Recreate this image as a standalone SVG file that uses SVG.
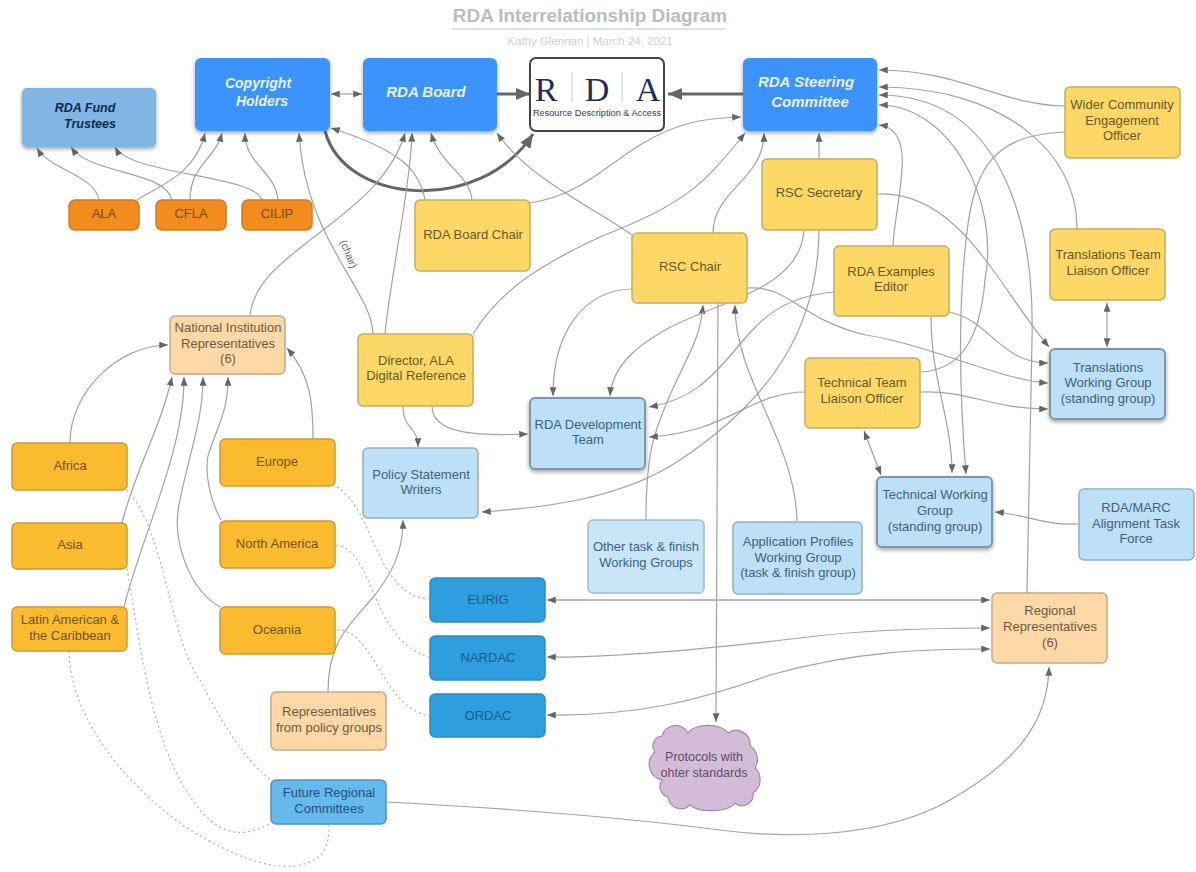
<svg xmlns="http://www.w3.org/2000/svg" width="1196" height="872" viewBox="0 0 1196 872">
<style>
text{font-family:"Liberation Sans",Arial,sans-serif;font-size:13px;text-anchor:middle}
.n{stroke-width:1.5}
.y{fill:#fdd866;stroke:#c4ad62}.yt{fill:#66582a}
.o{fill:#fbbb2e;stroke:#c79b3c}.ot{fill:#6e5418}
.d{fill:#f28c1c;stroke:#c87c2e}.dt{fill:#7a4a10}
.p{fill:#fed8a6;stroke:#c4aa88}.pt{fill:#6e5a42}
.l{fill:#bde0f6;stroke:#8fb0c8}.lt{fill:#3f5f7c}
.s{fill:#bde0f6;stroke:#7d97ad;stroke-width:2}
.b{fill:#3c93fc}.bt{fill:#e8f2ff;font-weight:bold;font-style:italic;font-size:15px}
.m{fill:#2f9ede;stroke:#2f8cc4}.mt{fill:#1d5a8c}
.f{fill:#66b9ec;stroke:#4f93bd}.ft{fill:#24527c}
.c path{fill:none;stroke:#a2a2a2;stroke-width:1.2;marker-end:url(#a)}
.c path.two{marker-start:url(#a)}
.c path.dot{stroke:#b0b0b0;stroke-dasharray:2 3;marker-end:none}
.c path.thick{stroke:#666;stroke-width:3;marker-end:url(#t)}
</style>
<defs>
<marker id="a" viewBox="0 0 10 8" refX="10" refY="4" markerWidth="9" markerHeight="7" markerUnits="userSpaceOnUse" orient="auto-start-reverse"><path d="M0,0L10,4L0,8Z" fill="#666"/></marker>
<marker id="t" viewBox="0 0 14 12" refX="14" refY="6" markerWidth="14" markerHeight="12" markerUnits="userSpaceOnUse" orient="auto"><path d="M0,0L14,6L0,12Z" fill="#666"/></marker>
<filter id="sh" x="-10%" y="-10%" width="120%" height="125%"><feDropShadow dx="0" dy="2" stdDeviation="2" flood-color="#555" flood-opacity=".55"/></filter>
</defs>
<g id="title">
<text x="590" y="22" style="font-size:18.9px;font-weight:bold;fill:#b9bcc0">RDA Interrelationship Diagram</text>
<path d="M452,29H726" stroke="#c4c6c9" stroke-width="1.2"/>
<text x="590" y="45" style="font-size:11.5px;fill:#cfd1d3">Kathy Glennan | March 24, 2021</text>
</g>
<g id="connectors" class="c">
<path d="M99,200C95,175 50,170 37,148"/>
<path d="M172,200C165,170 90,175 71,147"/>
<path d="M262,200C255,175 130,175 115,147"/>
<path d="M137,200C160,185 195,175 205,133"/>
<path d="M190,200C190,165 215,160 222,133"/>
<path d="M278,200C275,170 245,165 245,133"/>
<path class="two" d="M331,94H362"/>
<path class="thick" d="M497,94H530"/>
<path class="thick" d="M743,94H668"/>
<path class="thick" d="M325,131C345,205 480,215 533,134"/>
<path d="M373,334C372,290 305,240 299,133"/>
<path d="M250,316C255,250 380,220 405,133"/>
<path d="M385,334C390,280 410,190 412,133"/>
<path d="M425,200C420,170 400,150 331,128"/>
<path d="M472,200C470,175 440,165 431,133"/>
<path d="M530,203C580,195 600,170 640,145C680,120 710,118 741,117"/>
<path d="M473,334C500,290 540,265 600,237C680,205 700,190 745,133"/>
<path d="M713,233C713,190 764,180 764,133"/>
<path d="M819,159V133"/>
<path d="M893,246C895,200 920,130 879,125"/>
<path d="M1065,106C1000,105 960,70 879,70"/>
<path d="M1077,229C1078,150 1000,87 879,87"/>
<path d="M1027,593L1032,340C1035,220 1000,95 879,95"/>
<path d="M921,372C960,370 980,340 985,280C1000,200 950,105 879,105"/>
<path d="M1065,132C990,135 972,170 965,250C958,320 960,400 966,474"/>
<path d="M877,194C960,190 1000,290 1049,347"/>
<path class="two" d="M1107,303V347"/>
<path d="M949,312C990,320 1000,363 1048,363"/>
<path d="M747,288C790,285 800,320 866,335C930,345 1000,380 1048,383"/>
<path d="M920,392C970,390 990,409 1048,409"/>
<path d="M931,317C931,380 952,420 952,473"/>
<path class="two" d="M864,431L881,475"/>
<path d="M1079,524C1040,525 1030,515 995,512"/>
<path d="M646,520C646,450 655,430 670,395C690,350 700,340 703,305"/>
<path d="M797,521C795,440 735,380 735,305"/>
<path d="M718,303L716,722"/>
<path d="M804,230C800,290 720,300 665,330C630,350 612,370 610,396"/>
<path d="M819,230C818,330 770,400 680,460C620,500 540,508 482,512"/>
<path d="M834,292C780,297 760,320 735,350C710,380 690,400 649,407"/>
<path d="M805,392C750,392 730,432 649,437"/>
<path d="M632,289C585,290 553,330 553,396"/>
<path d="M632,235C590,205 530,180 497,133"/>
<path d="M403,406C403,430 418,425 418,447"/>
<path d="M432,406C432,435 480,436 528,434"/>
<path d="M328,692C328,640 350,625 375,595C390,575 403,555 403,520"/>
<path d="M70,443C70,390 120,345 168,345"/>
<path d="M313,439C313,400 310,375 287,348"/>
<path d="M122,523C135,470 160,430 172,377"/>
<path d="M124,607C140,540 185,450 184,377"/>
<path d="M220,607C190,590 170,540 180,500C190,450 203,420 203,377"/>
<path d="M221,520C205,490 205,460 210,450C220,420 228,410 228,377"/>
<path class="dot" d="M337,487C375,510 375,595 429,599"/>
<path class="dot" d="M336,545C375,550 370,640 429,657"/>
<path class="dot" d="M337,630C375,630 380,705 429,716"/>
<path class="dot" d="M127,490C165,530 170,640 200,680C225,730 250,765 271,780"/>
<path class="dot" d="M127,569C140,640 150,750 200,810C225,840 250,835 271,823"/>
<path class="dot" d="M69,651C70,720 130,790 190,830C240,860 270,868 295,866C320,862 330,850 329,824"/>
<path d="M387,802C500,808 620,817 720,830C780,838 880,840 950,800C1020,760 1048,720 1049,667"/>
<path class="two" style="stroke:#bbb;stroke-width:2" d="M547,600H990"/>
<path class="two" d="M547,657C620,658 740,645 800,638C860,630 930,628 990,628"/>
<path class="two" d="M547,715C640,716 700,700 770,675C860,650 930,649 990,649"/>
</g>
<text x="349" y="258" transform="rotate(68 349 254)" style="font-size:10.5px;fill:#666">(chair)</text>
<g id="fund"><rect x="22" y="88" width="134" height="59" rx="5" fill="#82b6e2" filter="url(#sh)"/><text x="85" y="112" style="font-size:12.5px;font-weight:bold;font-style:italic;fill:#0e2a4a">RDA Fund</text><text x="90" y="128" style="font-size:12.5px;font-weight:bold;font-style:italic;fill:#0e2a4a">Trustees</text></g>
<g id="copyright"><rect class="b" x="195" y="58" width="135" height="73" rx="6" filter="url(#sh)"/><text class="bt" x="258" y="88" style="font-size:14px">Copyright</text><text class="bt" x="262" y="106" style="font-size:14px">Holders</text></g>
<g id="board"><rect class="b" x="363" y="58" width="134" height="73" rx="6" filter="url(#sh)"/><text class="bt" x="426" y="97">RDA Board</text></g>
<g id="logo"><rect x="530" y="58" width="134" height="73" rx="6" fill="#fff" stroke="#444" stroke-width="2"/>
<text x="546" y="101" style="font-family:'Liberation Serif',serif;font-size:34px;fill:#1c2c5c">R</text>
<text x="597" y="101" style="font-family:'Liberation Serif',serif;font-size:34px;fill:#1c2c5c">D</text>
<text x="648" y="101" style="font-family:'Liberation Serif',serif;font-size:34px;fill:#1c2c5c">A</text>
<path d="M572,72V102M622,72V102" stroke="#ccc"/>
<text x="597" y="116" style="font-size:9.2px;fill:#333a55">Resource Description &amp; Access</text></g>
<g id="rsc"><rect class="b" x="743" y="58" width="134" height="73" rx="6" filter="url(#sh)"/><text class="bt" x="806" y="87">RDA Steering</text><text class="bt" x="810" y="107">Committee</text></g>
<g id="ala"><rect class="n d" x="69" y="200" width="70" height="30" rx="6"/><text class="dt" x="104" y="218">ALA</text></g>
<g id="cfla"><rect class="n d" x="156" y="200" width="70" height="30" rx="6"/><text class="dt" x="191" y="218">CFLA</text></g>
<g id="cilip"><rect class="n d" x="242" y="200" width="70" height="30" rx="6"/><text class="dt" x="277" y="218">CILIP</text></g>
<g id="boardchair"><rect class="n y" x="415" y="200" width="115" height="71" rx="5"/><text class="yt" x="473" y="239">RDA Board Chair</text></g>
<g id="secretary"><rect class="n y" x="762" y="159" width="115" height="71" rx="5"/><text class="yt" x="819" y="197">RSC Secretary</text></g>
<g id="chair"><rect class="n y" x="632" y="233" width="115" height="70" rx="5"/><text class="yt" x="690" y="271">RSC Chair</text></g>
<g id="examples"><rect class="n y" x="834" y="246" width="115" height="70" rx="5"/><text class="yt" x="891" y="276">RDA Examples</text><text class="yt" x="891" y="291">Editor</text></g>
<g id="wider"><rect class="n y" x="1065" y="87" width="115" height="71" rx="5"/><text class="yt" x="1122" y="109">Wider Community</text><text class="yt" x="1122" y="125">Engagement</text><text class="yt" x="1122" y="140">Officer</text></g>
<g id="transteam"><rect class="n y" x="1050" y="229" width="115" height="71" rx="5"/><text class="yt" x="1108" y="259">Translations Team</text><text class="yt" x="1108" y="275">Liaison Officer</text></g>
<g id="techteam"><rect class="n y" x="805" y="358" width="115" height="70" rx="5"/><text class="yt" x="862" y="387">Technical Team</text><text class="yt" x="862" y="403">Liaison Officer</text></g>
<g id="director"><rect class="n y" x="358" y="334" width="115" height="72" rx="5"/><text class="yt" x="416" y="365">Director, ALA</text><text class="yt" x="416" y="380">Digital Reference</text></g>
<g id="transwg"><rect class="s" x="1050" y="349" width="115" height="70" rx="5" filter="url(#sh)"/><text class="lt" x="1108" y="372">Translations</text><text class="lt" x="1108" y="387">Working Group</text><text class="lt" x="1108" y="403">(standing group)</text></g>
<g id="techwg"><rect class="s" x="877" y="477" width="115" height="70" rx="5" filter="url(#sh)"/><text class="lt" x="935" y="499">Technical Working</text><text class="lt" x="935" y="515">Group</text><text class="lt" x="935" y="531">(standing group)</text></g>
<g id="devteam"><rect class="s" x="530" y="398" width="115" height="71" rx="5" filter="url(#sh)"/><text class="lt" x="588" y="429">RDA Development</text><text class="lt" x="588" y="444">Team</text></g>
<g id="marc"><rect class="n l" x="1079" y="489" width="115" height="71" rx="5"/><text class="lt" x="1136" y="512">RDA/MARC</text><text class="lt" x="1136" y="528">Alignment Task</text><text class="lt" x="1136" y="543">Force</text></g>
<g id="appprofiles"><rect class="n l" x="733" y="522" width="129" height="72" rx="5"/><text class="lt" x="798" y="546">Application Profiles</text><text class="lt" x="798" y="562">Working Group</text><text class="lt" x="798" y="577">(task &amp; finish group)</text></g>
<g id="other"><rect class="n" fill="#c8e6f8" stroke="#9cbcd0" x="588" y="520" width="116" height="73" rx="5"/><text class="lt" x="646" y="551">Other task &amp; finish</text><text class="lt" x="646" y="567">Working Groups</text></g>
<g id="policy"><rect class="n l" x="363" y="448" width="115" height="70" rx="5"/><text class="lt" x="421" y="479">Policy Statement</text><text class="lt" x="421" y="494">Writers</text></g>
<g id="nir"><rect class="n p" x="170" y="316" width="115" height="58" rx="5"/><text class="pt" x="228" y="332">National Institution</text><text class="pt" x="228" y="348">Representatives</text><text class="pt" x="228" y="363">(6)</text></g>
<g id="africa"><rect class="n o" x="12" y="443" width="115" height="47" rx="5"/><text class="ot" x="70" y="470">Africa</text></g>
<g id="asia"><rect class="n o" x="12" y="523" width="115" height="46" rx="5"/><text class="ot" x="70" y="549">Asia</text></g>
<g id="latin"><rect class="n o" x="12" y="607" width="115" height="44" rx="5"/><text class="ot" x="70" y="624">Latin American &amp;</text><text class="ot" x="70" y="640">the Caribbean</text></g>
<g id="europe"><rect class="n o" x="220" y="439" width="115" height="47" rx="5"/><text class="ot" x="277" y="466">Europe</text></g>
<g id="northamerica"><rect class="n o" x="220" y="521" width="115" height="47" rx="5"/><text class="ot" x="277" y="548">North America</text></g>
<g id="oceania"><rect class="n o" x="220" y="607" width="115" height="47" rx="5"/><text class="ot" x="277" y="634">Oceania</text></g>
<g id="reppolicy"><rect class="n p" x="271" y="692" width="115" height="58" rx="5"/><text class="pt" x="329" y="716">Representatives</text><text class="pt" x="329" y="732">from policy groups</text></g>
<g id="future"><rect class="n f" x="271" y="780" width="115" height="44" rx="5"/><text class="ft" x="329" y="797">Future Regional</text><text class="ft" x="329" y="813">Committees</text></g>
<g id="eurig"><rect class="n m" x="430" y="578" width="115" height="44" rx="5"/><text class="mt" x="488" y="604">EURIG</text></g>
<g id="nardac"><rect class="n m" x="430" y="636" width="115" height="44" rx="5"/><text class="mt" x="488" y="662">NARDAC</text></g>
<g id="ordac"><rect class="n m" x="430" y="694" width="115" height="43" rx="5"/><text class="mt" x="488" y="720">ORDAC</text></g>
<g id="regional"><rect class="n p" x="992" y="593" width="115" height="70" rx="5"/><text class="pt" x="1050" y="615">Regional</text><text class="pt" x="1050" y="631">Representatives</text><text class="pt" x="1050" y="647">(6)</text></g>
<g id="protocols"><path d="M655,752A10,10 0 0 1 662,736A14,14 0 0 1 688,733A21,11 0 0 1 728,733A14,14 0 0 1 750,746A16,16 0 0 1 755,768A16,16 0 0 1 753,793A11,11 0 0 1 735,803A24,10 0 0 1 690,805A13,13 0 0 1 668,797A11,11 0 0 1 662,780A16,16 0 0 1 655,752Z" fill="#d4bcd8" stroke="#9c8ca8" stroke-width="1.2"/><text x="704" y="761" style="font-size:12.5px" fill="#5d4b6a">Protocols with</text><text x="704" y="777" style="font-size:12.5px" fill="#5d4b6a">ohter standards</text></g>
</svg>
